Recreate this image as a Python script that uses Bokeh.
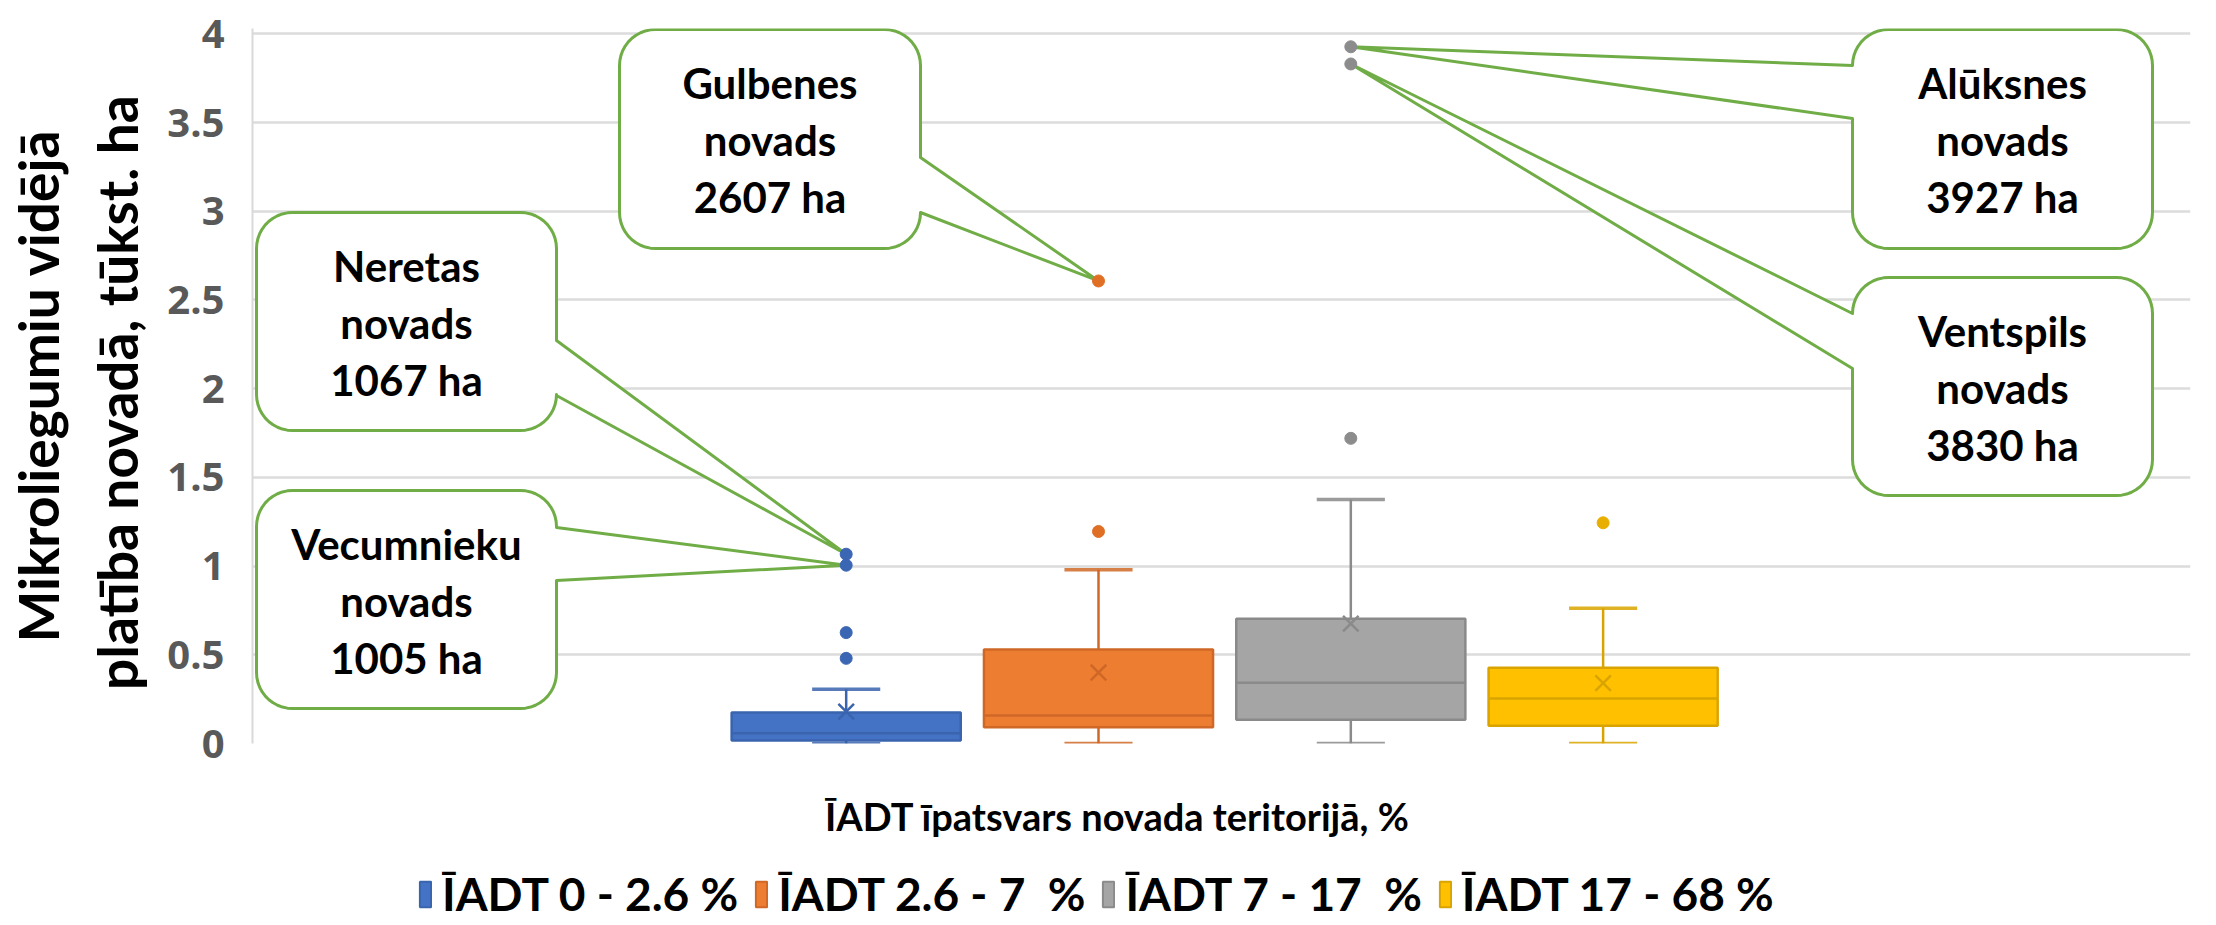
import numpy as np
from bokeh.plotting import figure
from bokeh.layouts import column
from bokeh.models import Range1d, FixedTicker, NumeralTickFormatter, Legend, LegendItem, Label
from bokeh.embed import file_html
from bokeh.resources import INLINE
from bokeh.core.properties import value

# ---------------- data ----------------
series = ["ĪADT 0 - 2.6 %", "ĪADT 2.6 - 7  %", "ĪADT 7 - 17  %", "ĪADT 17 - 68 %"]
positions = [-1.5, -0.5, 0.5, 1.5]
whisker_low = [0.0, 0.0, 0.0, 0.0]
q1 = [0.017, 0.092, 0.134, 0.100]
median = [0.058, 0.158, 0.342, 0.254]
q3 = [0.175, 0.530, 0.703, 0.427]
whisker_high = [0.306, 0.979, 1.375, 0.763]
means = [0.180, 0.400, 0.676, 0.340]
outliers = [[1.067, 1.005, 0.625, 0.480], [2.607, 1.195], [3.927, 3.830, 1.720], [1.244]]
y_ticks = [0, 0.5, 1, 1.5, 2, 2.5, 3, 3.5, 4]

callout_lines = [["Gulbenes", "novads", "2607 ha"],
                 ["Neretas", "novads", "1067 ha"],
                 ["Vecumnieku", "novads", "1005 ha"],
                 ["Alūksnes", "novads", "3927 ha"],
                 ["Ventspils", "novads", "3830 ha"]]
callout_target = [(1, 2.607), (0, 1.067), (0, 1.005), (2, 3.927), (2, 3.830)]

x_title = "ĪADT īpatsvars novada teritorijā, %"
y_title = "Mikroliegumiu vidējā\nplatība novadā,  tūkst. ha"

# ---------------- styles / layout ----------------
fill_colors = ["#4472C4", "#ED7D31", "#A5A5A5", "#FFC000"]
edge_colors = ["#3A64AE", "#CF6826", "#8A8A8A", "#D9A400"]
dot_colors = ["#3B66B4", "#E06F26", "#8C8C8C", "#E8AE00"]
GREEN = "#70AD47"

W, TOTAL_H = 2210, 921
FRAME_L, FRAME_T, FRAME_B = 252, 28, 743   # reference pixel positions
FW, FH = 1938, 715
XR = (-3.853, 3.828)
YR = (0.0, 4.03)
SX = FW / (XR[1] - XR[0])
SY = FH / (YR[1] - YR[0])
BOX_W = 0.908
CAP_W = 0.27
TOP_H = FRAME_B + 26
BOT_H = TOTAL_H - TOP_H

# callout boxes in reference pixel coords: left, top, right, bottom
callout_box_px = [(619, 29, 920, 248), (256, 212, 556, 430), (256, 490, 556, 708),
                  (1852, 29, 2152, 248), (1852, 277, 2152, 495)]
callout_side = ["right", "right", "right", "left", "left"]
callout_base_px = [(157, 212), (340, 395), (527, 580), (65, 118), (313, 368)]
LINE_GAP = 57
RADIUS = 36


def ux(px):
    return XR[0] + (px - FRAME_L) / SX


def vy(py):
    return (FRAME_B - py) / SY


def callout_poly(box, side, base, tip):
    L, T, R, B = box
    r = RADIUS
    pts = []

    def arc(cx, cy, a0, a1):
        for a in np.linspace(np.radians(a0), np.radians(a1), 12):
            pts.append((cx + r * np.cos(a), cy + r * np.sin(a)))

    pts.append((L + r, T))
    pts.append((R - r, T))
    arc(R - r, T + r, -90, 0)
    if side == "right":
        pts.append((R, base[0]))
        pts.append(tip)
        pts.append((R, base[1]))
    pts.append((R, B - r))
    arc(R - r, B - r, 0, 90)
    pts.append((L + r, B))
    arc(L + r, B - r, 90, 180)
    if side == "left":
        pts.append((L, base[1]))
        pts.append(tip)
        pts.append((L, base[0]))
    arc(L + r, T + r, 180, 270)
    xs = [ux(p[0]) for p in pts]
    ys = [vy(p[1]) for p in pts]
    return xs, ys


p = figure(width=W, height=TOP_H, frame_width=FW, frame_height=FH,
           x_range=Range1d(*XR), y_range=Range1d(*YR),
           output_backend="svg", toolbar_location=None, x_axis_location=None,
           min_border_left=FRAME_L, min_border_top=FRAME_T,
           min_border_right=W - FRAME_L - FW,
           min_border_bottom=TOP_H - FRAME_T - FH)
p.outline_line_color = None
p.background_fill_color = "white"
p.border_fill_color = "white"

p.xgrid.visible = False
p.ygrid.grid_line_color = "#DCDCDC"
p.ygrid.grid_line_width = 2.5
p.ygrid.ticker = FixedTicker(ticks=y_ticks)

ya = p.yaxis[0]
ya.ticker = FixedTicker(ticks=y_ticks)
ya.formatter = NumeralTickFormatter(format="0.[0]")
ya.major_tick_line_color = None
ya.minor_tick_line_color = None
ya.axis_line_color = "#D9D9D9"
ya.axis_line_width = 2
ya.major_label_standoff = 22
ya.major_label_text_font = "Open Sans"
ya.major_label_text_font_style = "bold"
ya.major_label_text_font_size = "40px"
ya.major_label_text_color = "#595959"
ya.axis_label = y_title
ya.axis_label_text_font = "Lato"
ya.axis_label_text_font_style = "bold"
ya.axis_label_text_font_size = "55px"
ya.axis_label_text_color = "black"
ya.axis_label_standoff = 14

for i in range(4):
    x = positions[i]
    p.segment(x0=[x, x], y0=[whisker_low[i], q3[i]], x1=[x, x], y1=[q1[i], whisker_high[i]],
              line_color=edge_colors[i], line_width=2.5)
    p.segment(x0=[x - CAP_W / 2] * 2, x1=[x + CAP_W / 2] * 2,
              y0=[whisker_low[i], whisker_high[i]], y1=[whisker_low[i], whisker_high[i]],
              line_color=edge_colors[i], line_width=3.5, line_alpha=0.85)
    p.vbar(x=[x], width=BOX_W, bottom=[q1[i]], top=[q3[i]],
           fill_color=fill_colors[i], line_color=edge_colors[i], line_width=2.5)
    p.segment(x0=[x - BOX_W / 2], x1=[x + BOX_W / 2], y0=[median[i]], y1=[median[i]],
              line_color=edge_colors[i], line_width=2.5)
    p.scatter(x=[x], y=[means[i]], marker="x", size=22, line_color=edge_colors[i], line_width=2.5)

# callouts
for k in range(len(callout_lines)):
    si, val = callout_target[k]
    tip = (FRAME_L + (positions[si] - XR[0]) * SX, FRAME_B - val * SY)
    xs, ys = callout_poly(callout_box_px[k], callout_side[k], callout_base_px[k], tip)
    p.patch(xs, ys, fill_color="white", line_color=GREEN, line_width=3, line_join="round")
    L, T, R, B = callout_box_px[k]
    cx = (L + R) / 2
    cy = (T + B) / 2 + 1
    tx = [ux(cx)] * 3
    ty = [vy(cy + (j - 1) * LINE_GAP) for j in range(3)]
    p.text(x=tx, y=ty, text=callout_lines[k], text_align="center", text_baseline="middle",
           text_font=value("Lato"), text_font_style="bold", text_font_size="42px", text_color="black")

# outliers on top
for i in range(4):
    p.scatter(x=[positions[i]] * len(outliers[i]), y=outliers[i], marker="circle", size=12,
              fill_color=dot_colors[i], line_color=dot_colors[i])

# ---------------- bottom strip: x title + legend ----------------
# (the column layout aligns this strip's frame with the main frame: left edge at FRAME_L)
p2 = figure(width=W, height=BOT_H, x_range=Range1d(0, 1), y_range=Range1d(0, 1),
            output_backend="svg", toolbar_location=None, min_border=0,
            x_axis_location=None, y_axis_location=None)
p2.grid.visible = False
p2.outline_line_color = None
p2.background_fill_color = "white"
p2.border_fill_color = "white"

p2.add_layout(Label(x=1117 - FRAME_L, y=TOTAL_H - 815, x_units="screen", y_units="screen",
                    text=x_title, text_align="center", text_baseline="middle",
                    text_font="Lato", text_font_style="bold", text_font_size="38px",
                    text_color="black"))

dummies = []
for i in range(4):
    dummies.append(p2.vbar(x=[float("nan")], width=0.1, top=[float("nan")], bottom=[float("nan")],
                           fill_color=fill_colors[i], line_color=edge_colors[i], line_width=2))

legend = Legend(items=[LegendItem(label=series[i], renderers=[dummies[i]]) for i in range(4)],
                orientation="horizontal", location=(418 - FRAME_L, 0),
                label_text_font="Lato", label_text_font_style="bold", label_text_font_size="46px",
                label_text_color="black", glyph_width=14, glyph_height=32, label_standoff=10,
                spacing=16, padding=0, margin=0, border_line_color=None,
                background_fill_alpha=0)
p2.add_layout(legend)

open("out.html", "w").write(file_html(column(p, p2, spacing=0), INLINE))
